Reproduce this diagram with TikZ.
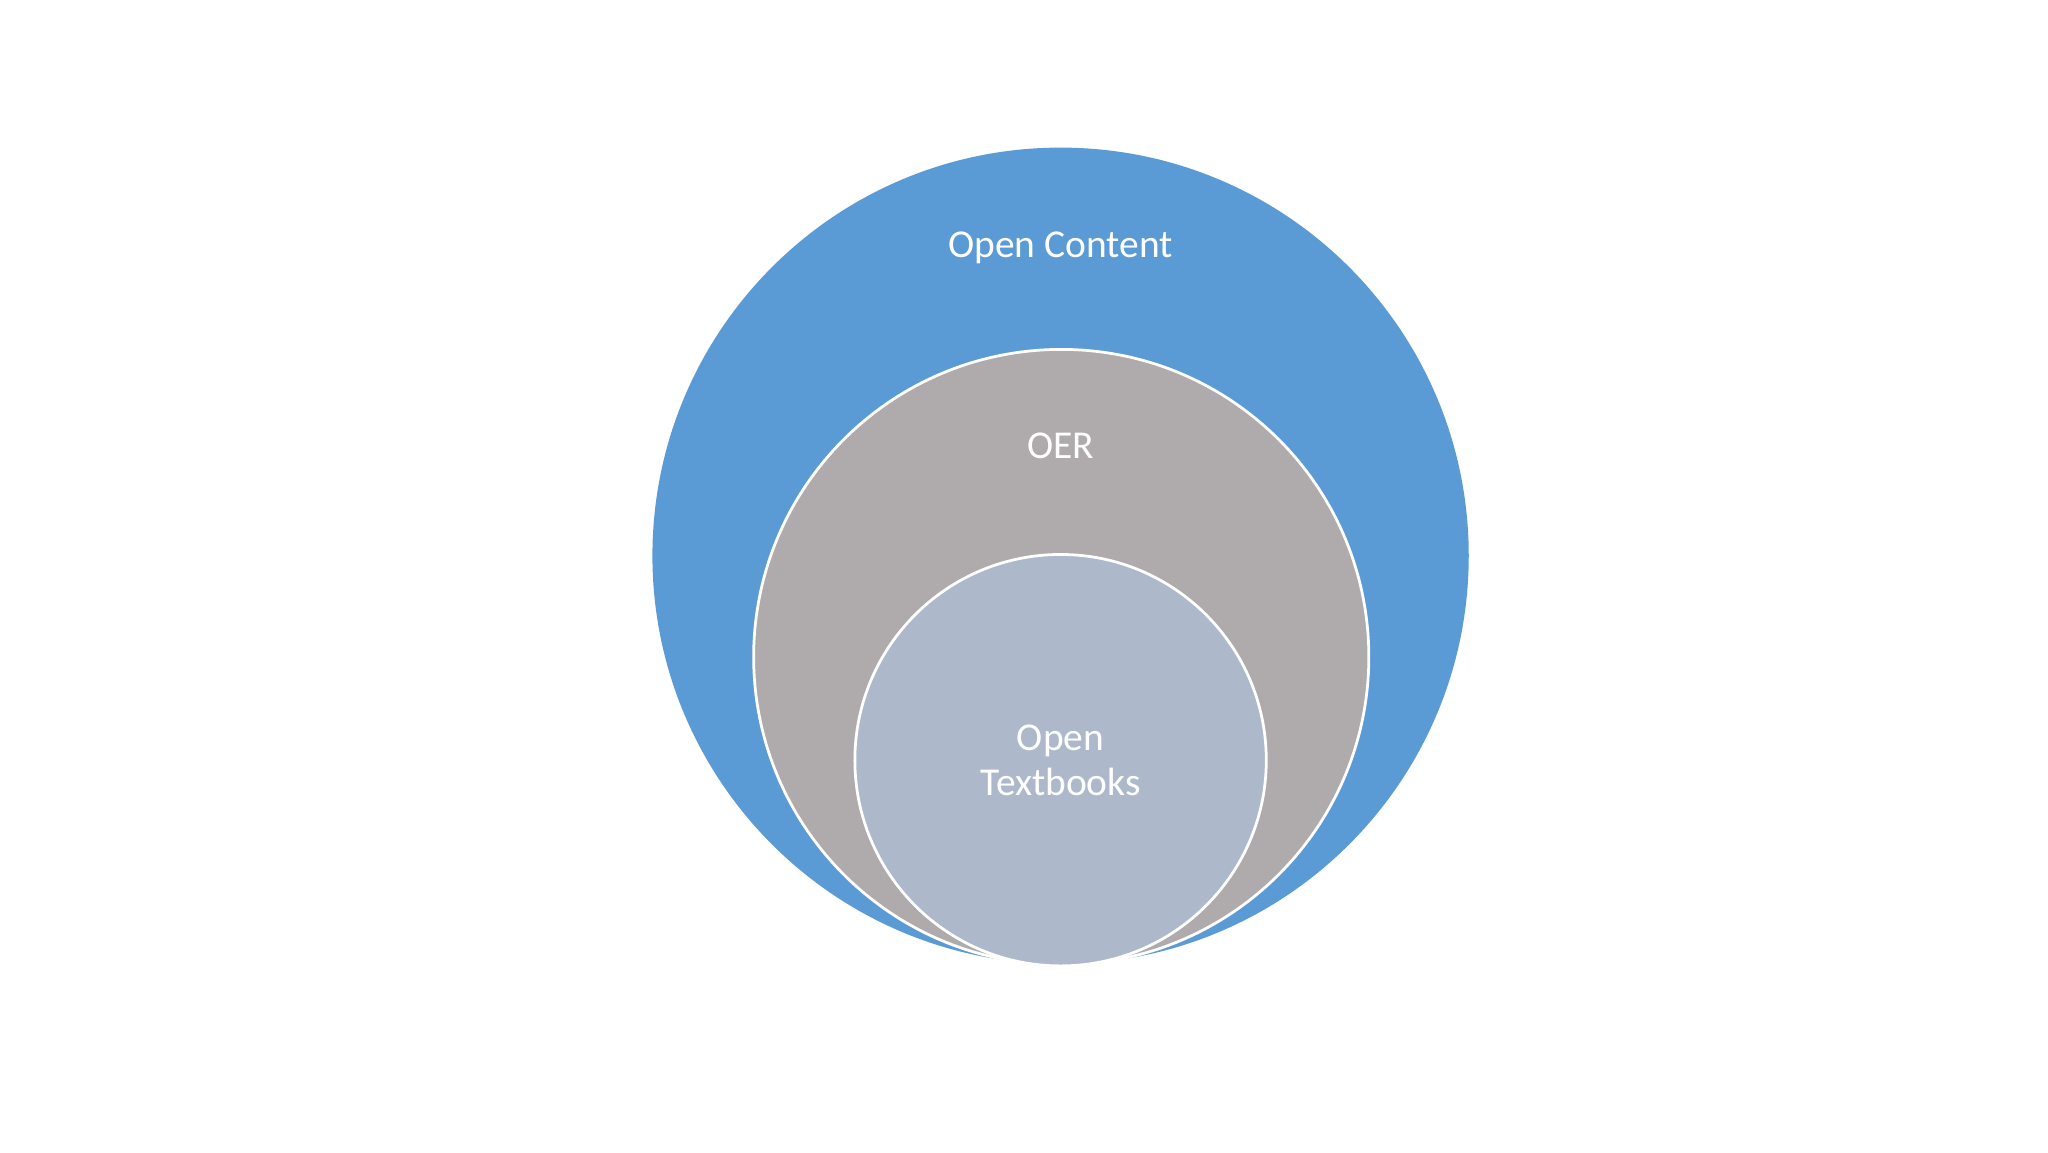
\documentclass[tikz,border=0pt]{standalone}
\usepackage{fontspec}
\setmainfont{Carlito}
\definecolor{outerc}{HTML}{5B9BD5}
\definecolor{midc}{HTML}{AFABAC}
\definecolor{innc}{HTML}{ADB9CA}
\begin{document}
\begin{tikzpicture}[
  lbl/.style={text=white,font=\fontsize{8.6pt}{9.8pt}\selectfont,align=center}]
\useasboundingbox (0,0) rectangle (15.68,8.82);
\fill[white] (0,0) rectangle (15.68,8.82);
\node[circle,fill=outerc,minimum size=6.25cm,inner sep=0] (outer) at (8.12,4.565) {};
\node[circle,fill=midc,draw=white,line width=0.6pt,minimum size=4.71cm,inner sep=0] (mid) at (8.125,3.79) {};
\node[circle,fill=innc,draw=white,line width=0.6pt,minimum size=3.15cm,inner sep=0] (inn) at (8.12,3.0) {};
\node[lbl] (t1) at (8.12,6.92) {Open Content};
\node[lbl] (t2) at (8.12,5.41) {OER};
\node[lbl] (t3) at (8.12,3.0) {Open\\Textbooks};
\end{tikzpicture}
\end{document}
